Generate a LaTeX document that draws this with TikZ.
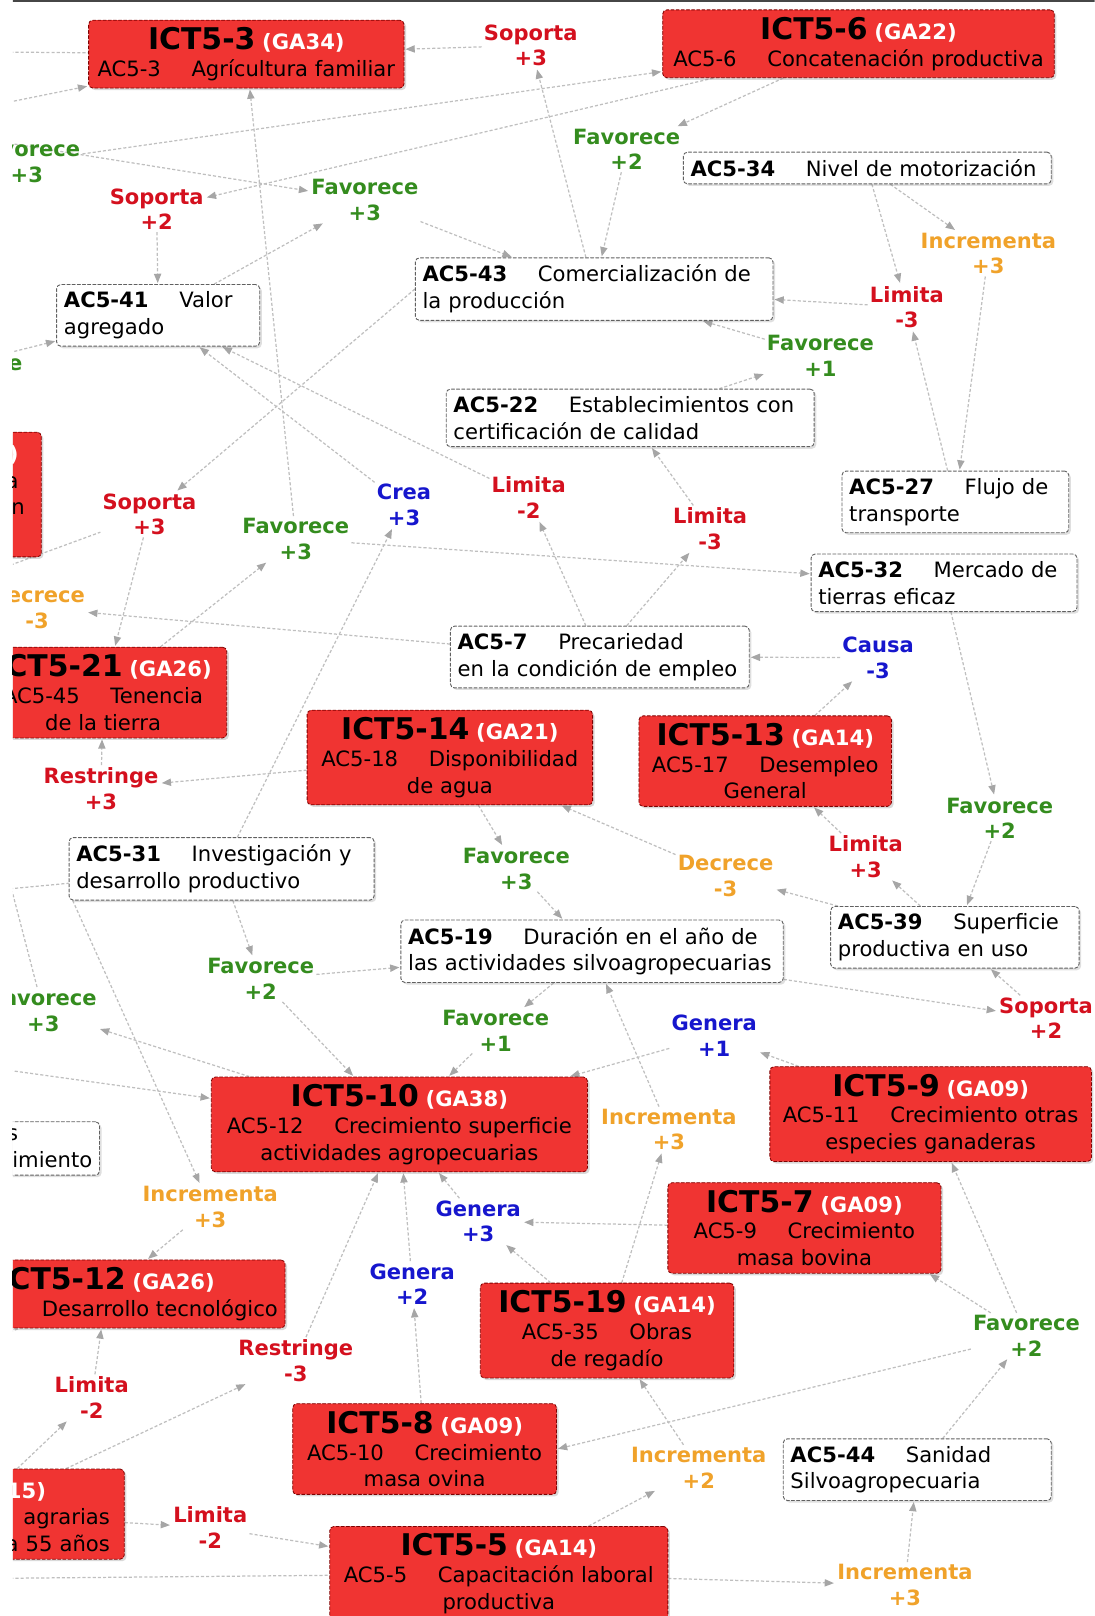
\documentclass[tikz,border=0pt]{standalone}
\usepackage{fontspec}
\setmainfont{DejaVu Sans}
\usetikzlibrary{arrows.meta, shadows}

\definecolor{rojoict}{RGB}{240,52,50}
\definecolor{rojorel}{RGB}{212,16,30}
\definecolor{verderel}{RGB}{52,140,30}
\definecolor{azulrel}{RGB}{22,22,205}
\definecolor{naranjarel}{RGB}{240,162,42}

\pgfdeclarelayer{fondo}
\pgfsetlayers{fondo,main}

\newcommand{\acgap}{\hspace{1.45em}}
\newcommand{\ictnom}[2]{{\fontsize{29}{30}\selectfont\bfseries #1}\ {\bfseries\color{white}(#2)}}

\begin{document}
\begin{tikzpicture}[x=1pt, y=-1pt, >={Triangle[length=9pt, width=7pt, color=gray!70]}, line cap=round, line join=round]

	% ================= 1. Estilos del mapa =================
	\tikzset{
		ict/.style={rectangle, rounded corners=4pt, fill=rojoict, draw=red!50!black, densely dashed,
			line width=0.8pt, align=center, inner xsep=7pt, inner ysep=7pt,
			font=\fontsize{20.5}{26}\selectfont,
			drop shadow={shadow xshift=2pt, shadow yshift=-2pt, opacity=0.3}},
		ac/.style={rectangle, rounded corners=4pt, fill=white, draw=gray!75!black, densely dashed,
			line width=0.9pt, align=left, inner xsep=7pt, inner ysep=7pt,
			font=\fontsize{20.5}{26}\selectfont,
			drop shadow={shadow xshift=2pt, shadow yshift=-2pt, opacity=0.25}},
		rel/.style={align=center, inner sep=2pt, font=\bfseries\fontsize{20.4}{25}\selectfont},
		relroja/.style={rel, text=rojorel},
		relverde/.style={rel, text=verderel},
		relazul/.style={rel, text=azulrel},
		relnaranja/.style={rel, text=naranjarel},
		link/.style={->, draw=gray!50, dash pattern=on 3pt off 2pt, line width=1.2pt, shorten >=1pt},
		linkp/.style={draw=gray!50, dash pattern=on 3pt off 2pt, line width=1.2pt}
	}

	\useasboundingbox (0,0) rectangle (1062,1568);
	\clip (12.5,0) rectangle (1062,1568);
	\draw[gray!55!black, line width=2.5pt] (12.5,1) -- (1062,1);

	% ================= 2. Conceptos ICT (rojos) =================
	\node[ict, minimum width=306pt, minimum height=65pt] (ict3) at (239,52.5) {\ictnom{ICT5-3}{GA34}\\AC5-3\acgap Agrícultura familiar};
	\node[ict, minimum width=380pt, minimum height=65pt] (ict6) at (833,42.5) {\ictnom{ICT5-6}{GA22}\\AC5-6\acgap Concatenación productiva};
	\node[ict, minimum width=240pt, minimum height=88pt] (ict21) at (100,672) {\ictnom{ICT5-21}{GA26}\\AC5-45\acgap Tenencia\\de la tierra};
	\node[ict, minimum width=277pt, minimum height=90pt] (ict14) at (436.5,735) {\ictnom{ICT5-14}{GA21}\\AC5-18\acgap Disponibilidad\\de agua};
	\node[ict, minimum width=245pt, minimum height=87pt] (ict13) at (742.5,738.5) {\ictnom{ICT5-13}{GA14}\\AC5-17\acgap Desempleo\\General};
	\node[ict, minimum width=365pt, minimum height=92pt] (ict10) at (387.5,1091) {\ictnom{ICT5-10}{GA38}\\AC5-12\acgap Crecimiento superficie\\actividades agropecuarias};
	\node[ict, minimum width=312pt, minimum height=92pt] (ict9) at (903,1081) {\ictnom{ICT5-9}{GA09}\\AC5-11\acgap Crecimiento otras\\especies ganaderas};
	\node[ict, minimum width=265pt, minimum height=87pt] (ict7) at (780.5,1191.5) {\ictnom{ICT5-7}{GA09}\\AC5-9\acgap Crecimiento\\masa bovina};
	\node[ict, minimum width=344pt, minimum height=66pt] (ict12) at (103,1255.5) {\ictnom{ICT5-12}{GA26}\\\phantom{AC5-00}\acgap Desarrollo tecnológico};
	\node[ict, minimum width=246pt, minimum height=92pt] (ict19) at (589,1291) {\ictnom{ICT5-19}{GA14}\\AC5-35\acgap Obras\\de regadío};
	\node[ict, minimum width=256pt, minimum height=88pt] (ict8) at (412,1406) {\ictnom{ICT5-8}{GA09}\\AC5-10\acgap Crecimiento\\masa ovina};
	\node[ict, minimum width=328pt, minimum height=90pt] (ict5) at (484,1527) {\ictnom{ICT5-5}{GA14}\\AC5-5\acgap Capacitación laboral\\productiva};
	% cajas cortadas por el borde izquierdo
	\node[ict, anchor=north east, text width=136pt, align=right] (ictA) at (40.5,419)
		{{\fontsize{29}{30}\selectfont\bfseries\vphantom{I}}{\bfseries\color{white})}\hspace{15pt}\mbox{}\\a\hspace{15pt}\mbox{}\\n\hspace{9pt}\mbox{}\\\strut};
	\node[ict, anchor=north east, text width=272pt, inner xsep=14pt, align=right] (ictB) at (121,1425)
		{{\fontsize{29}{30}\selectfont\bfseries\vphantom{I}}{\bfseries\color{white}15)}\hspace{62pt}\mbox{}\\agrarias\\a 55 años};

	% ================= 3. Conceptos AC (blancos) =================
	\node[ac, text width=343pt] (ac34) at (841.5,163) {\textbf{AC5-34}\acgap Nivel de motorización};
	\node[ac, text width=183pt] (ac41) at (153.5,306) {\textbf{AC5-41}\acgap Valor\\agregado};
	\node[ac, text width=333pt] (ac43) at (576.5,280.5) {\textbf{AC5-43}\acgap Comercialización de\\la producción};
	\node[ac, text width=343pt] (ac22) at (611.5,405.5) {\textbf{AC5-22}\acgap Establecimientos con\\certificación de calidad};
	\node[ac, text width=206pt] (ac27) at (927,487) {\textbf{AC5-27}\acgap Flujo de\\transporte};
	\node[ac, text width=244pt] (ac32) at (916,565.5) {\textbf{AC5-32}\acgap Mercado de\\tierras eficaz};
	\node[ac, text width=276pt] (ac7) at (582,637.5) {\textbf{AC5-7}\acgap Precariedad\\en la condición de empleo};
	\node[ac, text width=282pt] (ac31) at (215,843) {\textbf{AC5-31}\acgap Investigación y\\desarrollo productivo};
	\node[ac, text width=357pt] (ac19) at (574.5,923) {\textbf{AC5-19}\acgap Duración en el año de\\las actividades silvoagropecuarias};
	\node[ac, text width=227pt] (ac39) at (926.5,909.5) {\textbf{AC5-39}\acgap Superficie\\productiva en uso};
	\node[ac, text width=246pt] (ac44) at (890,1426) {\textbf{AC5-44}\acgap Sanidad\\Silvoagropecuaria};
	\node[ac, anchor=north east, text width=150pt, align=right] (acA) at (97,1088) {s\hspace{72pt}\mbox{}\\imiento};

	% ================= 4. Frases de enlace =================
	\node[relroja] (r1) at (515,44) {Soporta\\+3};
	\node[relverde] (r2) at (26,157) {Favorece\\+3};
	\node[relroja] (r3) at (152,203) {Soporta\\+2};
	\node[relverde] (r4) at (354,194) {Favorece\\+3};
	\node[relverde] (r5) at (608,145) {Favorece\\+2};
	\node[relnaranja] (r6) at (959,246) {Incrementa\\+3};
	\node[relroja] (r7) at (880,298) {Limita\\-3};
	\node[relverde] (r8) at (796,345) {Favorece\\+1};
	\node[relverde] (r9) at (-30,352) {Favorece};
	\node[relroja] (r10) at (145,499) {Soporta\\+3};
	\node[relverde] (r11) at (287,523) {Favorece\\+3};
	\node[relazul] (r12) at (392,490) {Crea\\+3};
	\node[relroja] (r13) at (513,483) {Limita\\-2};
	\node[relroja] (r14) at (689,513) {Limita\\-3};
	\node[relnaranja] (r15) at (36,590) {Decrece\\-3};
	\node[relazul] (r16) at (852,638) {Causa\\-3};
	\node[relroja] (r17) at (98,765) {Restringe\\+3};
	\node[relverde] (r18) at (970,794) {Favorece\\+2};
	\node[relroja] (r19) at (840,831) {Limita\\+3};
	\node[relverde] (r20) at (501,843) {Favorece\\+3};
	\node[relnaranja] (r21) at (704,850) {Decrece\\-3};
	\node[relverde] (r22) at (253,950) {Favorece\\+2};
	\node[relverde] (r23) at (42,981) {Favorece\\+3};
	\node[relroja] (r24) at (1015,988) {Soporta\\+2};
	\node[relverde] (r25) at (481,1000) {Favorece\\+1};
	\node[relazul] (r26) at (693,1005) {Genera\\+1};
	\node[relnaranja] (r27) at (649,1096) {Incrementa\\+3};
	\node[relnaranja] (r28) at (204,1171) {Incrementa\\+3};
	\node[relazul] (r29) at (464,1185) {Genera\\+3};
	\node[relazul] (r30) at (400,1246) {Genera\\+2};
	\node[relroja] (r31) at (287,1320) {Restringe\\-3};
	\node[relroja] (r32) at (89,1356) {Limita\\-2};
	\node[relverde] (r33) at (996,1296) {Favorece\\+2};
	\node[relnaranja] (r34) at (678,1424) {Incrementa\\+2};
	\node[relroja] (r35) at (204,1482) {Limita\\-2};
	\node[relnaranja] (r36) at (878,1538) {Incrementa\\+3};

	% extremos fuera del recorte
	\coordinate (fueraA) at (-60,50);
	\coordinate (fueraB) at (-60,113);
	\coordinate (fueraC) at (-60,128);
	\coordinate (fueraD) at (-60,574);
	\coordinate (fueraE) at (-60,869);
	\coordinate (fueraF) at (10,858);
	\coordinate (fueraG) at (-60,1029);
	\coordinate (fueraH) at (-60,1320);
	\coordinate (fueraI) at (-60,1532);

	% ================= 5. Conectores =================
	\begin{pgfonlayer}{fondo}
	\begin{scope}
		\clip (12.5,0) rectangle (1062,1568);
		\draw[linkp] (fueraA) -- (ict3);
		\draw[link] (fueraB) -- (ict3);
		\draw[link] (r1) -- (ict3);
		\draw[link] (ac43) -- (r1);
		\draw[link] (ict6) -- (r5);
		\draw[link] (r5) -- (ac43);
		\draw[link] (r2) -- (ict6);
		\draw[link] (ict6) -- (r3);
		\draw[link] (r3) -- (ac41);
		\draw[link] (fueraC) -- (r4);
		\draw[link] (ac41) -- (r4);
		\draw[link] (r4) -- (ac43);
		\draw[link] (r9) -- (ac41);
		\draw[link] (r11) -- (ict3);
		\draw[link] (ict21) -- (r11);
		\draw[link] (r11) -- (ac32);
		\draw[link] (r12) -- (ac41);
		\draw[link] (ac31) -- (r12);
		\draw[link] (r13) -- (ac41);
		\draw[link] (ac7) -- (r13);
		\draw[link] (ac43.west) -- (r10);
		\draw[link] (r10) -- (ict21);
		\draw[linkp] (fueraD) -- (r10);
		\draw[link] (ac7) -- (r15);
		\draw[link] (ac7) -- (r14);
		\draw[link] (r14) -- (ac22);
		\draw[link] (ac22) -- (r8);
		\draw[link] (r8) -- (ac43);
		\draw[link] (ac34) -- (r7);
		\draw[link] (r7) -- (ac43);
		\draw[link] (ac27) -- (r7);
		\draw[link] (ac34) -- (r6);
		\draw[link] (r6) -- (ac27);
		\draw[link] (ac32) -- (r18);
		\draw[link] (r18) -- (ac39);
		\draw[link] (ict13) -- (r16);
		\draw[link] (r16) -- (ac7);
		\draw[link] (ac39) -- (r19);
		\draw[link] (r19) -- (ict13);
		\draw[link] (ac39) -- (r21);
		\draw[link] (r21) -- (ict14);
		\draw[link] (ict14) -- (r20);
		\draw[link] (r20) -- (ac19);
		\draw[link] (ict14) -- (r17);
		\draw[link] (r17) -- (ict21);
		\draw[link] (ac19) -- (r24);
		\draw[link] (r24) -- (ac39);
		\draw[linkp] (fueraE) -- (ac31);
		\draw[linkp] (fueraF) -- (r23);
		\draw[link] (ac31) -- (r22);
		\draw[link] (r22) -- (ac19);
		\draw[link] (r22) -- (ict10);
		\draw[link] (ac19) -- (r25);
		\draw[link] (r25) -- (ict10);
		\draw[link] (ict9) -- (r26);
		\draw[link] (r26) -- (ict10);
		\draw[link] (ict10) -- (r23);
		\draw[link] (fueraG) -- (ict10);
		\draw[link] ([xshift=4pt]ac31.south west) -- (r28);
		\draw[link] (r28) -- (ict12);
		\draw[linkp] (fueraH) -- (ict12);
		\draw[link] (ictB) -- (r31);
		\draw[link] (r31) -- (ict10);
		\draw[link] (ictB) -- (r32);
		\draw[link] (r32) -- (ict12);
		\draw[link] (ictB) -- (r35);
		\draw[link] (r35) -- (ict5);
		\draw[linkp] (fueraI) -- (ict5);
		\draw[link] (ict5) -- (r36);
		\draw[link] (r36) -- (ac44);
		\draw[link] (ict5) -- (r34);
		\draw[link] (r34) -- (ict19);
		\draw[link] (ac44) -- (r33);
		\draw[link] (r33) -- ([xshift=-12pt]ict7.south east);
		\draw[link] (r33) -- (ict9);
		\draw[link] (r33) -- (ict8.east);
		\draw[link] (ict19) -- (r29);
		\draw[link] (ict7) -- (r29);
		\draw[link] (r29) -- (ict10);
		\draw[link] (ict8) -- (r30);
		\draw[link] (r30) -- (ict10);
		\draw[link] (ict19) -- (r27);
		\draw[link] (r27) -- (ac19);
	\end{scope}
	\end{pgfonlayer}

\end{tikzpicture}
\end{document}
